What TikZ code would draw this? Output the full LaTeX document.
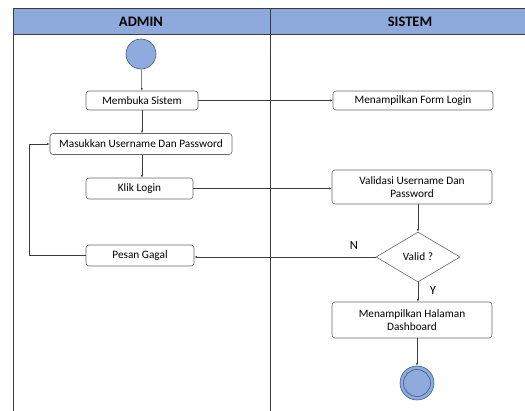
\documentclass[tikz,border=0pt]{standalone}
\usepackage{fontspec}
\setmainfont{Carlito}
\usetikzlibrary{shapes.geometric,arrows.meta}
\definecolor{hdr}{RGB}{142,169,219}
\definecolor{circ}{RGB}{143,170,220}
\definecolor{circb}{RGB}{65,90,140}
\definecolor{ln}{RGB}{60,60,60}
\tikzset{
  act/.style={draw=gray!80!black, rounded corners=3pt, line width=0.6pt, fill=white, font=\fontsize{11.3}{13}\selectfont, align=center, inner sep=0pt},
  flow/.style={draw=ln, line width=0.5pt, -{Latex[length=2.5pt,width=2pt]}},
  lane/.style={draw=ln, line width=0.6pt},
}
\begin{document}
\begin{tikzpicture}[x=1pt,y=-1pt]
\useasboundingbox (0,0) rectangle (525,411);
% header
\fill[hdr] (13,8) rectangle (525,34);
\draw[lane] (525,8) -- (13,8) -- (13,411);
\draw[lane] (13,34) -- (525,34);
\draw[lane] (270,8) -- (270,411);
\node[font=\fontsize{14.5}{16}\selectfont\bfseries] (hA) at (141,21.5) {ADMIN};
\node[font=\fontsize{14.5}{16}\selectfont\bfseries] (hS) at (410,21.5) {SISTEM};
% nodes
\node[circle, draw=circb, fill=circ, line width=0.6pt, minimum size=30pt, inner sep=0pt] (start) at (141,54) {};
\node[act, minimum width=112pt, minimum height=19pt] (m1) at (142,100.5) {Membuka Sistem};
\node[act, minimum width=160pt, minimum height=19pt] (s1) at (413,100.5) {Menampilkan Form Login};
\node[act, minimum width=182pt, minimum height=21pt] (m2) at (141,144) {Masukkan Username Dan Password};
\node[act, minimum width=107pt, minimum height=21pt] (m3) at (139.5,188.5) {Klik Login};
\node[act, minimum width=160pt, minimum height=34pt] (s2) at (412,187) {Validasi Username Dan\\Password};
\node[diamond, draw=gray!80!black, line width=0.6pt, fill=white, minimum width=84pt, minimum height=50pt, inner sep=0pt, font=\fontsize{11.3}{13}\selectfont] (d) at (418,257) {Valid ?};
\node[act, minimum width=108pt, minimum height=21pt] (m4) at (140,255.5) {Pesan Gagal};
\node[act, minimum width=160pt, minimum height=36pt] (s3) at (412,320) {Menampilkan Halaman\\Dashboard};
\node[circle, draw=circb, fill=circ, line width=0.6pt, minimum size=34pt, inner sep=0pt] (end) at (417,383) {};
\node[circle, draw=circb, line width=0.6pt, minimum size=27pt, inner sep=0pt] (endin) at (end) {};
\node[font=\fontsize{12.5}{14}\selectfont] (N) at (354,245) {N};
\node[font=\fontsize{12.5}{14}\selectfont] (Y) at (433,290) {Y};
% flows
\draw[flow] (start) -- (m1);
\draw[flow] (m1) -- (s1);
\draw[flow] (m1) -- (m1 |- m2.north);
\draw[flow] (m2.south -| m1) -- (m1 |- m3.north);
\draw[flow] (m3.east) -- (m3.east -| s2.west);
\draw[flow] (s2.south -| d) -- (d.north);
\draw[flow] (d.west) -- (d.west -| m4.east);
\coordinate (c1) at (29,255.5);
\coordinate (c2) at (29,144);
\draw[flow] (m4.west) -- (c1) -- (c2) -- (m2.west);
\draw[flow] (d.south) -- (d.south |- s3.north);
\draw[flow] (s3.south -| end) -- (end.north);
\end{tikzpicture}
\end{document}
